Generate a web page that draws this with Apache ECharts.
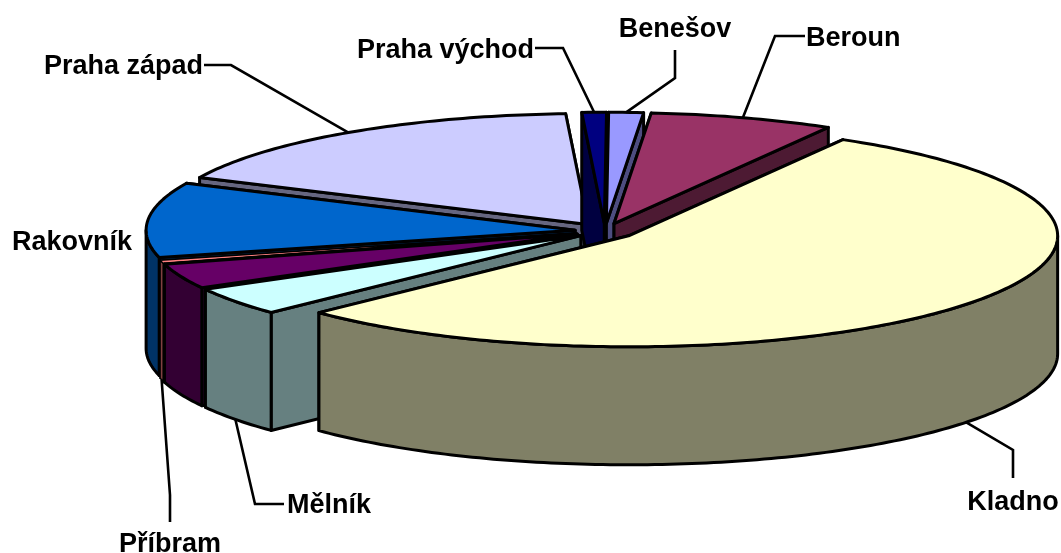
<!DOCTYPE html>
<html>
<head>
<meta charset="utf-8">
<title>Pie</title>
<style>
  html, body { margin: 0; padding: 0; background: #fff; }
  #chart { width: 1061px; height: 553px; }
</style>
<script src="https://cdn.jsdelivr.net/npm/echarts@6/dist/echarts.min.js"></script>
</head>
<body>
<div id="chart"></div>
<script>
// share of each district, clockwise from the top (the dark purple slice has no label in the picture)
const categories = ['Benešov', 'Beroun', 'Kladno', 'Mělník', '', 'Příbram', 'Rakovník', 'Praha západ', 'Praha východ']
const values = [1.3, 6.94, 54.5, 4.12, 3.65, 0.45, 10.9, 17.2, 0.92]
const topColors = ['#9999FF', '#993366', '#FFFFCC', '#CCFFFF', '#660066', '#FF8080', '#0066CC', '#CCCCFF', '#000080']
const wallColors = ['#4D4D80', '#4D1A33', '#808066', '#668080', '#330033', '#804040', '#003366', '#666680', '#000040']

// back to front, so nearer slices paint over farther ones
const drawOrder = ['Praha západ', 'Praha východ', 'Benešov', 'Beroun', 'Rakovník', 'Příbram', '', 'Mělník', 'Kladno']

// pie geometry, px
const pie = { cx: 605, cy: 231, rx: 429, ry: 111, depth: 118, explode: 0.07, startAngle: 0.3 }

// label layout: text anchor and the elbow of the leader line
const labelLayout = {
  'Benešov': { x: 675, y: 30, align: 'center', elbow: [675, 78], end: [675, 50] },
  'Beroun': { x: 806, y: 39, align: 'left', elbow: [775, 36], end: [805, 36] },
  'Kladno': { x: 1013, y: 503, align: 'center', elbow: [1013, 450], end: [1013, 478] },
  'Mělník': { x: 287, y: 506, align: 'left', elbow: [255, 504], end: [284, 504] },
  'Příbram': { x: 170, y: 545, align: 'center', elbow: [170, 495], end: [170, 522] },
  'Rakovník': { x: 132, y: 243, align: 'right' },
  'Praha západ': { x: 203, y: 67, align: 'right', elbow: [231, 65], end: [204, 65] },
  'Praha východ': { x: 534, y: 51, align: 'right', elbow: [563, 48], end: [535, 48] }
}

const total = values.reduce((a, b) => a + b, 0)
const slices = {}
let acc = pie.startAngle
categories.forEach((name, i) => {
  const span = values[i] / total * 360
  const from = acc
  const to = acc + span
  const mid = (from + to) / 2 * Math.PI / 180
  slices[name] = {
    from, to,
    top: topColors[i],
    wall: wallColors[i],
    // exploded centre of this slice
    cx: pie.cx + pie.explode * pie.rx * Math.sin(mid),
    cy: pie.cy - pie.explode * pie.ry * Math.cos(mid)
  }
  acc = to
})

function rimPoint(s, deg, down) {
  const t = deg * Math.PI / 180
  return [s.cx + pie.rx * Math.sin(t), s.cy - pie.ry * Math.cos(t) + (down || 0)]
}

function arcPoints(s, from, to, down) {
  const pts = []
  const n = Math.max(2, Math.ceil(Math.abs(to - from)))
  for (let i = 0; i <= n; i++) {
    pts.push(rimPoint(s, from + (to - from) * i / n, down))
  }
  return pts
}

function polygon(points, fill, lineWidth) {
  return {
    type: 'polygon',
    shape: { points },
    style: { fill, stroke: '#000', lineWidth: lineWidth || 3, lineJoin: 'round' }
  }
}

function renderSlice(params, api) {
  const s = slices[drawOrder[api.value(0)]]
  const d = pie.depth
  // the sliver would vanish under a full width outline
  const lw = s.to - s.from < 2 ? 1.5 : 3
  const children = []
  // the two cut faces, the one with the lower rim point last
  const faces = [rimPoint(s, s.from), rimPoint(s, s.to)].sort((p, q) => p[1] - q[1])
  faces.forEach(p => {
    children.push(polygon([[s.cx, s.cy], p, [p[0], p[1] + d], [s.cx, s.cy + d]], s.wall, lw))
  })
  // outer wall, front half only
  const a = Math.max(s.from, 90)
  const b = Math.min(s.to, 270)
  if (b > a) {
    const upper = arcPoints(s, a, b)
    const lower = arcPoints(s, a, b, d).reverse()
    children.push(polygon(upper.concat(lower), s.wall, lw))
  }
  // top face
  children.push(polygon([[s.cx, s.cy]].concat(arcPoints(s, s.from, s.to)), s.top, lw))
  return { type: 'group', children }
}

function renderLabel(params, api) {
  const name = categories[api.value(0)]
  const l = labelLayout[name]
  if (!l) return { type: 'group', children: [] }
  const children = []
  if (l.elbow) {
    const s = slices[name]
    const mid = (s.from + s.to) / 2
    // leaders to the front half land on the lower edge of the wall
    const anchor = rimPoint(s, mid, mid > 90 && mid < 270 ? pie.depth : 0)
    children.push({
      type: 'polyline',
      shape: { points: [l.end, l.elbow, anchor] },
      style: { fill: null, stroke: '#000', lineWidth: 2.6 }
    })
  }
  children.push({
    type: 'text',
    style: {
      text: name,
      x: l.x,
      y: l.y,
      align: l.align,
      verticalAlign: 'middle',
      fill: '#000',
      font: 'bold 27px "Liberation Sans", Arial, sans-serif'
    }
  })
  return { type: 'group', children }
}

const chart = echarts.init(document.getElementById('chart'))
chart.setOption({
  animation: false,
  backgroundColor: '#fff',
  series: [
    {
      type: 'custom',
      coordinateSystem: 'none',
      silent: true,
      renderItem: renderSlice,
      data: drawOrder.map((n, i) => [i])
    },
    {
      type: 'custom',
      coordinateSystem: 'none',
      silent: true,
      renderItem: renderLabel,
      data: categories.map((n, i) => [i])
    }
  ]
})
</script>
</body>
</html>
